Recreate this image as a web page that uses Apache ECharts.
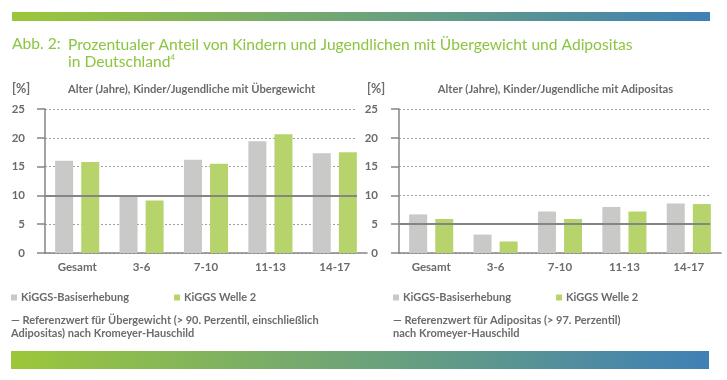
<!DOCTYPE html>
<html>
<head>
<meta charset="utf-8">
<script src="https://cdn.jsdelivr.net/npm/echarts@6/dist/echarts.min.js"></script>
<style>
html,body{margin:0;padding:0;background:#fff;}
#chart{width:727px;height:380px;}
</style>
</head>
<body>
<div id="chart"></div>
<script>
// ---- data ----
var categories = ['Gesamt', '3-6', '7-10', '11-13', '14-17'];
var seriesNames = ['KiGGS-Basiserhebung', 'KiGGS Welle 2'];
var uebergewichtBasis = [16.0, 9.8, 16.2, 19.4, 17.3];
var uebergewichtWelle2 = [15.8, 9.1, 15.5, 20.6, 17.5];
var adipositasBasis = [6.7, 3.2, 7.2, 8.0, 8.6];
var adipositasWelle2 = [5.9, 2.0, 5.9, 7.2, 8.5];
var referenzwerte = [10, 5];
var yMin = 0, yMax = 25, yInterval = 5;
var subtitles = ['Alter (Jahre), Kinder/Jugendliche mit Übergewicht', 'Alter (Jahre), Kinder/Jugendliche mit Adipositas'];
var notes = ['— Referenzwert für Übergewicht (> 90. Perzentil, einschließlich\nAdipositas) nach Kromeyer-Hauschild',
             '— Referenzwert für Adipositas (> 97. Perzentil)\nnach Kromeyer-Hauschild'];

// ---- style ----
var FONT = 'Lato';
var GREY_TXT = '#6b6b6b';
var AXIS = '#858585';
var C_BASIS = '#c9c9c7';
var C_W2 = '#b7d46c';
var TITLE_C = '#8cc540';

var chart = echarts.init(document.getElementById('chart'), null, {renderer: 'canvas'});

var mainGrids = [
  {left: 45, top: 109, width: 322, height: 144},
  {left: 399, top: 109, width: 322, height: 144}
];
var overlayGrids = [
  {left: 45, top: 109, width: 312, height: 144},
  {left: 399, top: 109, width: 311, height: 144}
];

function catAxis(gi) {
  return {
    type: 'category', gridIndex: gi, data: categories,
    axisLine: {show: true, lineStyle: {color: AXIS, width: 1.5}},
    axisTick: {show: false},
    axisLabel: {color: GREY_TXT, fontFamily: FONT, fontWeight: 'bold', fontSize: 11.5, margin: 8}
  };
}
function valAxis(gi, margin) {
  return {
    type: 'value', gridIndex: gi, min: yMin, max: yMax, interval: yInterval,
    axisLine: {show: true, lineStyle: {color: AXIS, width: 1.5}},
    axisTick: {show: true, inside: false, length: 8, lineStyle: {color: AXIS, width: 1.5}},
    axisLabel: {color: GREY_TXT, fontFamily: FONT, fontWeight: 'bold', fontSize: 11.5, margin: margin},
    splitLine: {show: false}
  };
}
function overlayX(gi) {
  return {type: 'value', gridIndex: gi, min: 0, max: 1, show: false};
}
function overlayY(gi) {
  return {
    type: 'value', gridIndex: gi, min: yMin, max: yMax, interval: yInterval,
    axisLine: {show: false}, axisTick: {show: false}, axisLabel: {show: false},
    splitLine: {show: true, lineStyle: {color: '#a0a0a0', type: [2, 2], width: 1}}
  };
}

function barSeries(name, data, color, ai) {
  return {
    name: name, type: 'bar', xAxisIndex: ai, yAxisIndex: ai, data: data,
    barWidth: 18, barGap: '45%',
    itemStyle: {color: color},
    emphasis: {disabled: true}, z: 2
  };
}
function refSeries(ai, value) {
  return {
    type: 'line', xAxisIndex: ai, yAxisIndex: ai, data: [], z: 4, silent: true,
    markLine: {
      silent: true, symbol: ['none', 'none'], label: {show: false},
      lineStyle: {color: AXIS, type: 'solid', width: 2},
      data: [{yAxis: value}]
    }
  };
}

var legendText = {color: GREY_TXT, fontFamily: FONT, fontWeight: 'bold', fontSize: 11, padding: [0, 0, 0, -1]};

var option = {
  animation: false,
  grid: mainGrids.concat(overlayGrids),
  xAxis: [catAxis(0), catAxis(1), overlayX(2), overlayX(3)],
  yAxis: [valAxis(0, 20), valAxis(1, 21), overlayY(2), overlayY(3)],
  legend: [
    {left: 11, top: 292, padding: 0, itemWidth: 6, itemHeight: 6, itemGap: 45, icon: 'rect',
     data: seriesNames, textStyle: legendText, selectedMode: false},
    {left: 393, top: 292, padding: 0, itemWidth: 6, itemHeight: 6, itemGap: 45, icon: 'rect',
     data: seriesNames, textStyle: legendText, selectedMode: false}
  ],
  series: [
    barSeries(seriesNames[0], uebergewichtBasis, C_BASIS, 0),
    barSeries(seriesNames[1], uebergewichtWelle2, C_W2, 0),
    barSeries(seriesNames[0], adipositasBasis, C_BASIS, 1),
    barSeries(seriesNames[1], adipositasWelle2, C_W2, 1),
    refSeries(2, referenzwerte[0]),
    refSeries(3, referenzwerte[1])
  ],
  graphic: [
    {type: 'rect', shape: {x: 12, y: 12, width: 698, height: 9}, silent: true,
     style: {fill: new echarts.graphic.LinearGradient(0, 0, 1, 0, [{offset: 0, color: '#9cc73a'}, {offset: 1, color: '#3f80b6'}])}},
    {type: 'rect', shape: {x: 11, y: 351, width: 698, height: 18}, silent: true,
     style: {fill: new echarts.graphic.LinearGradient(0, 0, 1, 0, [{offset: 0, color: '#9cc73a'}, {offset: 1, color: '#3f80b6'}])}},
    {type: 'text', left: 12, top: 36, silent: true,
     style: {text: 'Abb. 2:', fill: TITLE_C, fontFamily: FONT, fontSize: 15.6}},
    {type: 'text', left: 68, top: 36, silent: true,
     style: {text: 'Prozentualer Anteil von Kindern und Jugendlichen mit Übergewicht und Adipositas\nin Deutschland{sup|4}',
       fill: TITLE_C, fontFamily: FONT, fontSize: 15.6, lineHeight: 17,
       rich: {sup: {fontSize: 8, fontFamily: FONT, fill: TITLE_C, verticalAlign: 'top', padding: [0, 0, 7, 0]}}}},
    {type: 'text', x: 12, y: 89, silent: true,
     style: {text: '[%]', fill: GREY_TXT, fontFamily: FONT, fontWeight: 'bold', fontSize: 12.5, verticalAlign: 'middle'}},
    {type: 'text', x: 367, y: 89, silent: true,
     style: {text: '[%]', fill: GREY_TXT, fontFamily: FONT, fontWeight: 'bold', fontSize: 12.5, verticalAlign: 'middle'}},
    {type: 'text', x: 191.5, y: 89, silent: true,
     style: {text: subtitles[0], fill: GREY_TXT, fontFamily: FONT, fontWeight: 'bold', fontSize: 11.2, align: 'center', verticalAlign: 'middle'}},
    {type: 'text', x: 555.5, y: 89, silent: true,
     style: {text: subtitles[1], fill: GREY_TXT, fontFamily: FONT, fontWeight: 'bold', fontSize: 11.2, align: 'center', verticalAlign: 'middle'}},
    {type: 'text', x: 11, y: 313.5, silent: true,
     style: {text: notes[0], fill: GREY_TXT, fontFamily: FONT, fontWeight: 'bold', fontSize: 11, lineHeight: 13}},
    {type: 'text', x: 393, y: 313.5, silent: true,
     style: {text: notes[1], fill: GREY_TXT, fontFamily: FONT, fontWeight: 'bold', fontSize: 11, lineHeight: 13}}
  ]
};
chart.setOption(option);
</script>
</body>
</html>
